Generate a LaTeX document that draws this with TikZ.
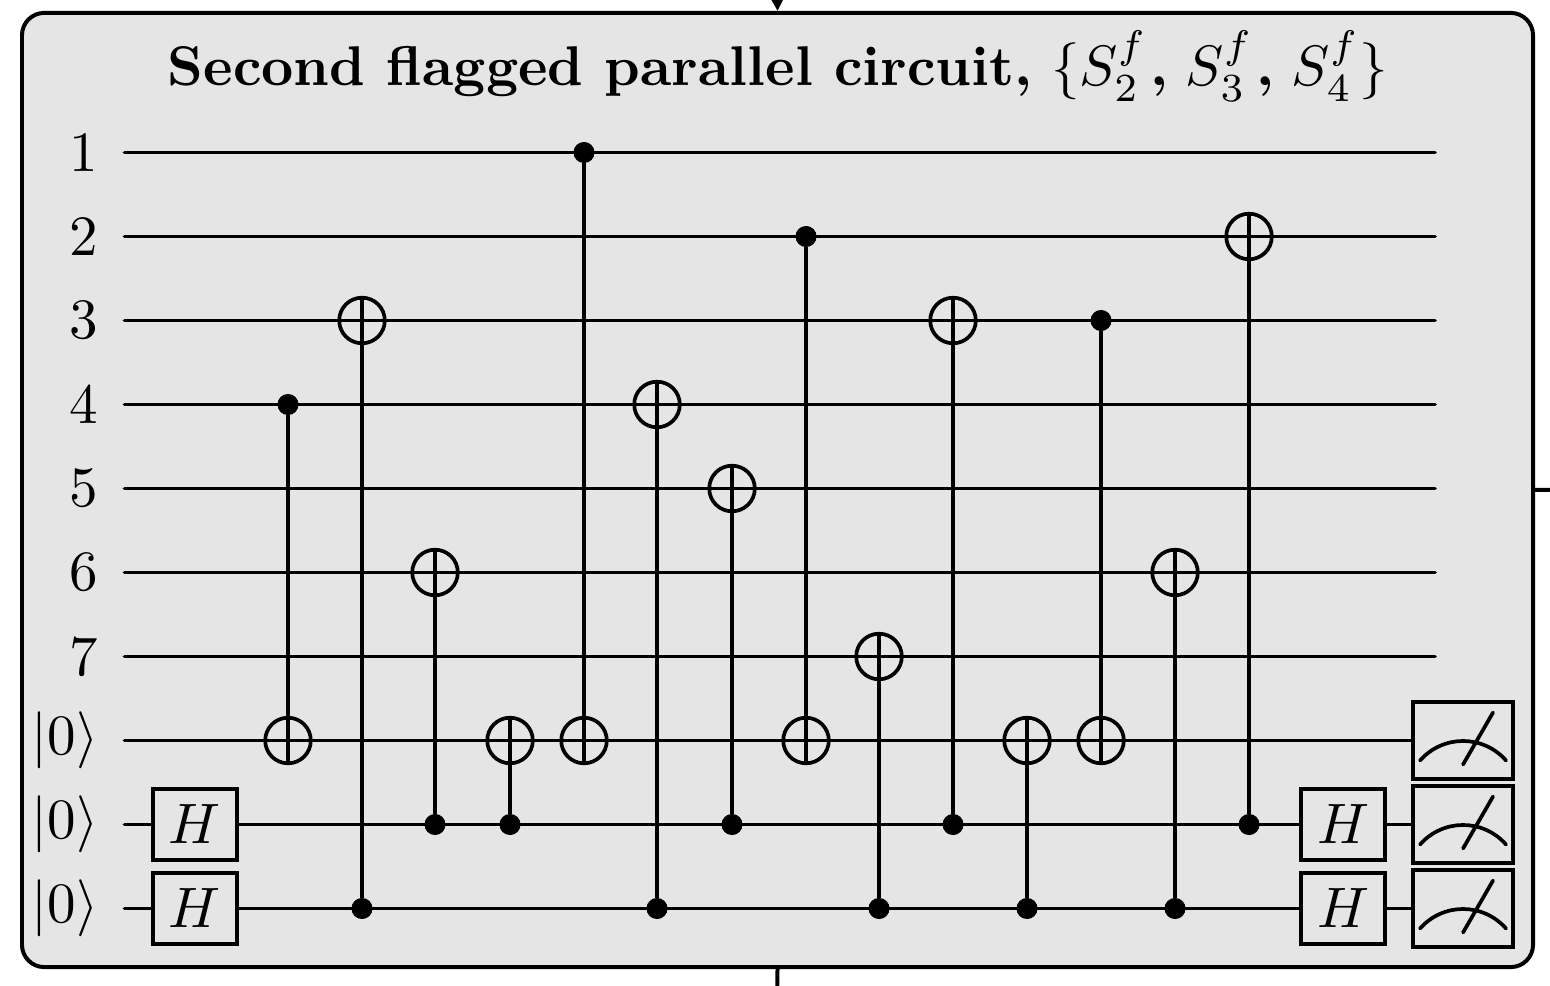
\documentclass[tikz,border=0pt]{standalone}
\usepackage{xcolor}
\usepackage{tikz}
\usetikzlibrary{arrows.meta, positioning, calc}

\begin{document}
\begin{tikzpicture}[
    x=0.17545pt, y=-0.17545pt,
    panel/.style={draw, line width=0.7pt, rounded corners=3.9pt, fill=black!10, minimum width=265.1pt, minimum height=167.4pt, inner sep=0pt},
    wire/.style={line width=0.65pt, line cap=round},
    hgate/.style={draw, line width=0.7pt, fill=black!10, minimum width=14.8pt, minimum height=12.4pt, inner sep=0pt},
    meter/.style={draw, line width=0.7pt, fill=black!10, minimum width=17.7pt, minimum height=13.6pt, inner sep=0pt},
    ctrl/.style={circle, fill=black, minimum size=3.7pt, inner sep=0pt, outer sep=0pt},
    targ/.style={circle, draw, line width=0.65pt, minimum size=8pt, inner sep=0pt, outer sep=0pt},
    lbl/.style={anchor=east, inner sep=0pt},
    arr/.style={-{Triangle[length=3pt, width=3pt]}, line width=0.6pt},
]
\useasboundingbox (0,0) rectangle (1550,986);

% Outer panel and its stubs
\node[panel] (box) at (777.5,490) {};
\coordinate (topin) at (777,-12);
\coordinate (botout) at (777,1000);
\coordinate (rightout) at (1565,489.5);
\draw[arr] (topin) -- (box.north);
\draw[line width=0.7pt] (box.south) -- (botout);
\draw[line width=0.7pt] (box.east) -- (rightout);

\node[anchor=base, inner sep=0pt] (title) at (778,86) {\fontsize{9.82pt}{12pt}\selectfont\textbf{Second flagged parallel circuit,} $\{S_2^f\mskip1mu\textbf{,}\mskip5.5mu S_3^f\mskip1mu\textbf{,}\mskip5.5mu S_4^f\}$};

% Qubit wires
\foreach \n/\y/\lab in {1/152.5/1, 2/236.5/2, 3/320.5/3, 4/404.5/4, 5/488.5/5, 6/572.5/6, 7/656.5/7, 8/740.5/$|0\rangle$, 9/824.5/$|0\rangle$, 10/908.5/$|0\rangle$} {
    \node[lbl] (q\n) at (99.5,\y) {\lab};
    \coordinate (s\n) at (124.5,\y);
    \coordinate (e\n) at (1435,\y);
}
\foreach \n in {1,...,7} \draw[wire] (s\n) -- (e\n);

% Measured wires
\foreach \n/\y in {8/740.5, 9/824.5, 10/908.5} {
    \coordinate (m\n) at (1463,\y);
    \draw[wire] (s\n) -- (m\n);
    \node[meter] (meas\n) at (m\n) {};
    \draw[wire] ($(meas\n.center)+(-43,20)$) .. controls ($(meas\n.center)+(-20,-6)$) and ($(meas\n.center)+(20,-6)$) .. ($(meas\n.center)+(43,20)$);
    \draw[wire] ($(meas\n.center)+(0,24)$) -- ($(meas\n.center)+(30,-28)$);
}

% Hadamards
\foreach \n/\y in {9/824.5, 10/908.5} {
    \node[hgate] (hl\n) at (195,\y) {$H$};
    \node[hgate] (hr\n) at (1343,\y) {$H$};
}

% CNOTs: x, control wire, target wire, far side of target
\foreach \x/\c/\t/\far in {288/404.5/740.5/south, 362/908.5/320.5/north, 435/824.5/572.5/north, 510/824.5/740.5/north, 584/152.5/740.5/south, 657/908.5/404.5/north, 732/824.5/488.5/north, 806/236.5/740.5/south, 879/908.5/656.5/north, 953/824.5/320.5/north, 1027/908.5/740.5/north, 1101/320.5/740.5/south, 1175/908.5/572.5/north, 1249/824.5/236.5/north} {
    \node[ctrl] (c\x) at (\x,\c) {};
    \node[targ] (t\x) at (\x,\t) {};
    \draw[line width=0.65pt] (c\x) -- (t\x.\far);
}
\end{tikzpicture}
\end{document}
